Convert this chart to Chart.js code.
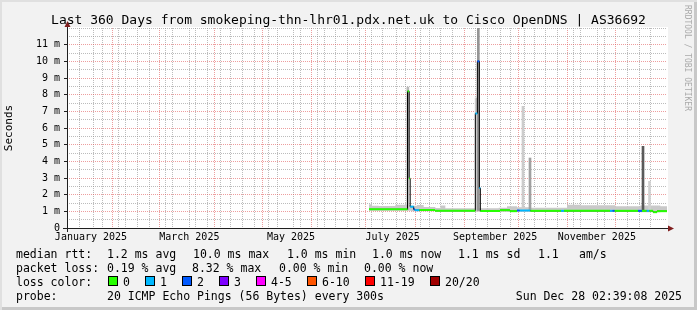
<!DOCTYPE html>
<html>
<head>
<meta charset="utf-8">
<title>smokeping - Cisco OpenDNS</title>
<script src="https://cdn.jsdelivr.net/npm/chart.js@4.4.1/dist/chart.umd.min.js"></script>
<style>
  html, body { margin: 0; padding: 0; background: #f2f2f2; }
  #wrap {
    position: relative; width: 697px; height: 310px; overflow: hidden;
    background: #f2f2f2;
    box-shadow: inset 2px 2px 0 #e0e0e0, inset -3px -3px 0 #c8c8c8;
    font-family: 'DejaVu Sans Mono', monospace; color: #000;
  }
  #chart { position: absolute; left: 0; top: 0; }
  #title { position: absolute; left: 0; top: 12px; width: 697px; text-align: center;
           font-size: 13px; line-height: 15px; white-space: pre; }
  #mark { position: absolute; left: 683px; top: 5px; writing-mode: vertical-rl;
          font-size: 8px; line-height: 9px; color: #aaa; white-space: pre; }
  .t { position: absolute; white-space: pre; font-size: 11.5px; line-height: 14px; }
  .box { position: absolute; width: 10px; height: 10px; box-sizing: border-box; border: 1px solid #000; }
</style>
</head>
<body>
<div id="wrap">
  <canvas id="chart" width="697" height="310"></canvas>
  <div id="title">Last 360 Days from smokeping-thn-lhr01.pdx.net.uk to Cisco OpenDNS | AS36692</div>
  <div id="mark">RRDTOOL / TOBI OETIKER</div>

  <span class="t" style="left:16px;top:247px">median rtt:</span>
  <span class="t" style="left:107px;top:247px">1.2 ms avg</span>
  <span class="t" style="left:193px;top:247px">10.0 ms max</span>
  <span class="t" style="left:287px;top:247px">1.0 ms min</span>
  <span class="t" style="left:372px;top:247px">1.0 ms now</span>
  <span class="t" style="left:458px;top:247px">1.1 ms sd</span>
  <span class="t" style="left:538px;top:247px">1.1</span>
  <span class="t" style="left:579px;top:247px">am/s</span>

  <span class="t" style="left:16px;top:261px">packet loss:</span>
  <span class="t" style="left:107px;top:261px">0.19 % avg</span>
  <span class="t" style="left:192px;top:261px">8.32 % max</span>
  <span class="t" style="left:279px;top:261px">0.00 % min</span>
  <span class="t" style="left:364px;top:261px">0.00 % now</span>

  <span class="t" style="left:16px;top:275px">loss color:</span>
  <div id="lossLegend"></div>

  <span class="t" style="left:16px;top:289px">probe:</span>
  <span class="t" style="left:107px;top:289px">20 ICMP Echo Pings (56 Bytes) every 300s</span>
  <span class="t" style="right:15px;top:289px">Sun Dec 28 02:39:08 2025</span>
</div>

<script>
// window: 360 days ending Sun Dec 28 02:39:08 2025, x values are days since window start
const t0 = Date.UTC(2025, 0, 2, 2, 39, 8);
const spanDays = 360;
const dayOf = (y, m, d) => (Date.UTC(y, m, d) - t0) / 864e5;

const monthLabels = ['January 2025', 'March 2025', 'May 2025', 'July 2025', 'September 2025', 'November 2025'];
const labelMonths = [0, 2, 4, 6, 8, 10];

const yMajor = [0, 1, 2, 3, 4, 5, 6, 7, 8, 9, 10, 11];
const yLabels = ['0', '1 m', '2 m', '3 m', '4 m', '5 m', '6 m', '7 m', '8 m', '9 m', '10 m', '11 m'];
const yMax = 12;

const lossLabels = ['0', '1', '2', '3', '4-5', '6-10', '11-19', '20/20'];
const lossColors = ['#26ff00', '#00b8ff', '#0059ff', '#7e00ff', '#ff00ff', '#ff5500', '#ff0000', '#a00000'];

// median rtt, one entry per step start (day, ms, lost pings of 20)
const medDay  = [181.2, 204.3, 205.3, 205.9, 208.0, 208.7, 211.5, 220.8, 245.0, 246.2, 247.4, 248.0,
                 259.8, 265.8, 270.0, 271.6, 278.0, 296.4, 298.2, 325.8, 327.4, 328.6, 342.6, 345.0,
                 347.8, 349.4, 351.6, 354.0];
const medVal  = [1.12, 8.2, 2.97, 1.28, 1.12, 1.07, 1.08, 1.04, 6.87, 10.0, 2.4, 1.02,
                 1.07, 1.01, 1.05, 1.05, 1.03, 1.03, 1.03, 1.03, 1.03, 1.03, 1.03, 1.03,
                 1.03, 1.03, 0.95, 1.01];
const medLoss = [0, 0, 0, 1, 2, 1, 0, 0, 1, 2, 1, 0,
                 0, 0, 2, 1, 0, 1, 0, 1, 2, 0, 2, 0,
                 1, 0, 0, 0];
const lastDay = 360;

// smoke band (ping spread), step starts
const smokeDay = [181.2, 183, 187, 197, 204, 206.5, 210, 214, 221, 224, 227, 244, 248.5, 259, 264, 270, 278, 300, 308, 329, 344, 356];
const smokeLo  = [1.04, 1.04, 1.04, 1.04, 1.04, 1.0, 1.0, 1.0, 0.98, 0.98, 0.98, 0.97, 0.96, 0.97, 0.96, 0.97, 0.97, 0.97, 0.97, 0.97, 0.95, 0.96];
const smokeHi  = [1.42, 1.34, 1.32, 1.40, 1.38, 1.34, 1.38, 1.26, 1.20, 1.35, 1.19, 1.18, 1.19, 1.22, 1.31, 1.25, 1.22, 1.40, 1.36, 1.30, 1.35, 1.30];

// single-sample smoke spikes
const spikeDay = [204.5, 245.5, 246.8, 273.6, 277.8, 345.6, 349.5];
const spikeLo  = [1.1, 1.05, 1.05, 1.05, 1.05, 1.05, 1.05];
const spikeHi  = [8.45, 7.8, 12.0, 7.3, 4.2, 4.9, 2.8];
const spikeShade = ['#b8b8b8', '#c8c8c8', '#959595', '#cccccc', '#a0a0a0', '#5a5a5a', '#d0d0d0'];

const MAJOR = 'rgba(222,79,79,0.55)';
const MINOR = 'rgba(143,143,143,0.6)';

function lossBucket(n) {
  if (n <= 3) return n;
  if (n <= 5) return 4;
  if (n <= 10) return 5;
  if (n <= 19) return 6;
  return 7;
}

// loss colour legend
const boxLeft = [108, 145, 182, 219, 256, 307, 365, 430];
document.getElementById('lossLegend').innerHTML = lossLabels.map((lab, i) =>
  `<div class="box" style="left:${boxLeft[i]}px;top:276px;background:${lossColors[i]}"></div>` +
  `<span class="t" style="left:${boxLeft[i] + 15}px;top:275px">${lab}</span>`).join('');

// median: colored horizontal pieces
const medPts = [];
medDay.forEach((d, i) => {
  const end = i + 1 < medDay.length ? medDay[i + 1] : lastDay;
  medPts.push({ x: d, y: medVal[i] }, { x: end, y: medVal[i] });
});
const medStep = medDay.map((d, i) => ({ x: d, y: medVal[i] }));
medStep.push({ x: lastDay, y: medVal[medVal.length - 1] });

const lo = smokeDay.map((d, i) => ({ x: d, y: smokeLo[i] }));
lo.push({ x: lastDay, y: smokeLo[smokeLo.length - 1] });
const hi = smokeDay.map((d, i) => ({ x: d, y: smokeHi[i] }));
hi.push({ x: lastDay, y: smokeHi[smokeHi.length - 1] });

const spikes = spikeDay.map((d, i) => ({ x: d, y: [spikeLo[i], spikeHi[i]] }));

Chart.defaults.font.family = "'DejaVu Sans Mono', monospace";
Chart.defaults.color = '#000';

const frame = {
  id: 'frame',
  beforeDraw(chart) {
    const { ctx, chartArea: a } = chart;
    ctx.save();
    ctx.fillStyle = '#ffffff';
    ctx.fillRect(a.left, a.top - 1, a.right - a.left + 1, a.bottom - a.top + 1);
    ctx.restore();
  },
  afterDraw(chart) {
    const { ctx, chartArea: a } = chart;
    const x0 = Math.round(a.left) + 0.5, y0 = Math.round(a.bottom) + 0.5;
    ctx.save();
    ctx.strokeStyle = '#1f1f1f';
    ctx.lineWidth = 1;
    ctx.beginPath();
    ctx.moveTo(a.left - 4, y0); ctx.lineTo(a.right + 3, y0);
    ctx.moveTo(x0, a.bottom + 4); ctx.lineTo(x0, a.top - 3);
    ctx.stroke();
    ctx.fillStyle = '#801f1f';
    ctx.beginPath();
    ctx.moveTo(x0, a.top - 7); ctx.lineTo(x0 - 3, a.top - 1); ctx.lineTo(x0 + 3, a.top - 1);
    ctx.closePath(); ctx.fill();
    ctx.beginPath();
    ctx.moveTo(a.right + 7, y0); ctx.lineTo(a.right + 1, y0 - 3); ctx.lineTo(a.right + 1, y0 + 3);
    ctx.closePath(); ctx.fill();
    ctx.restore();
  }
};

new Chart(document.getElementById('chart'), {
  type: 'line',
  data: {
    datasets: [
      {
        label: 'median',
        data: medPts,
        order: 0,
        borderWidth: 2,
        pointRadius: 0,
        segment: {
          borderColor: c => (c.p0DataIndex % 2 === 0)
            ? lossColors[lossBucket(medLoss[c.p0DataIndex / 2])]
            : 'rgba(0,0,0,0)'
        }
      },
      {
        label: 'median step',
        data: medStep,
        order: 1,
        stepped: true,
        borderColor: '#000',
        borderWidth: 1,
        pointRadius: 0
      },
      {
        type: 'bar',
        label: 'spikes',
        data: spikes,
        order: 2,
        grouped: false,
        barThickness: 2,
        backgroundColor: spikeShade,
        borderWidth: 0
      },
      {
        label: 'smoke lo',
        data: lo,
        order: 4,
        stepped: true,
        borderWidth: 0,
        borderColor: 'rgba(0,0,0,0)',
        pointRadius: 0
      },
      {
        label: 'smoke hi',
        data: hi,
        order: 3,
        stepped: true,
        fill: 3,
        backgroundColor: '#c9c9c9',
        borderWidth: 0,
        borderColor: 'rgba(0,0,0,0)',
        pointRadius: 0
      }
    ]
  },
  options: {
    responsive: false,
    devicePixelRatio: 1,
    animation: false,
    events: [],
    layout: { padding: { left: 2, right: 30, top: 28, bottom: 64 } },
    plugins: { legend: { display: false }, tooltip: { enabled: false }, title: { display: false } },
    scales: {
      x: {
        type: 'linear',
        min: 0,
        max: spanDays,
        offset: false,
        afterFit: s => { s.height = 18; },
        afterBuildTicks: s => {
          const monthStarts = [];
          for (let m = 1; m <= 11; m++) monthStarts.push(dayOf(2025, m, 1));
          const ticks = monthStarts.map(v => ({ value: v, kind: 'month' }));
          for (let d = dayOf(2025, 0, 6); d <= spanDays; d += 7) {
            if (!monthStarts.some(v => Math.abs(v - d) < 0.01)) ticks.push({ value: d, kind: 'week' });
          }
          monthLabels.forEach((lab, i) => {
            const m = labelMonths[i];
            ticks.push({ value: (dayOf(2025, m, 1) + dayOf(2025, m + 1, 1)) / 2, kind: 'label', text: lab });
          });
          s.ticks = ticks.filter(t => t.value >= 0 && t.value <= spanDays).sort((a, b) => a.value - b.value);
        },
        ticks: {
          autoSkip: false,
          maxRotation: 0,
          padding: 3,
          font: { size: 10 },
          color: '#000',
          callback: (v, i, ticks) => ticks[i].text || ''
        },
        grid: {
          drawTicks: false,
          color: c => !c.tick ? 'rgba(0,0,0,0)' : c.tick.kind === 'month' ? MAJOR : c.tick.kind === 'week' ? MINOR : 'rgba(0,0,0,0)',
          lineWidth: c => (c.tick && c.tick.kind !== 'label') ? 1 : 0
        },
        border: { display: false, dash: [1, 1] }
      },
      y: {
        type: 'linear',
        min: 0,
        max: yMax,
        afterFit: s => { s.width = 65; },
        afterBuildTicks: s => {
          const ticks = [];
          yMajor.forEach((v, i) => {
            ticks.push({ value: v, major: true, text: yLabels[i] });
            ticks.push({ value: v + 0.5, major: false, text: '' });
          });
          ticks.push({ value: yMax, major: false, text: '' });
          s.ticks = ticks;
        },
        ticks: {
          autoSkip: false,
          padding: 4,
          font: { size: 10 },
          color: '#000',
          callback: (v, i, ticks) => ticks[i].text
        },
        grid: {
          tickLength: 3,
          color: c => (c.tick && c.tick.major) ? MAJOR : MINOR,
          tickColor: c => (c.tick && c.tick.major) ? '#1f1f1f' : 'rgba(0,0,0,0)'
        },
        border: { display: false, dash: [1, 1] },
        title: {
          display: true,
          text: 'Seconds',
          color: '#000',
          font: { size: 11 },
          padding: { top: 1, bottom: 0 }
        }
      }
    }
  },
  plugins: [frame]
});
</script>
</body>
</html>
